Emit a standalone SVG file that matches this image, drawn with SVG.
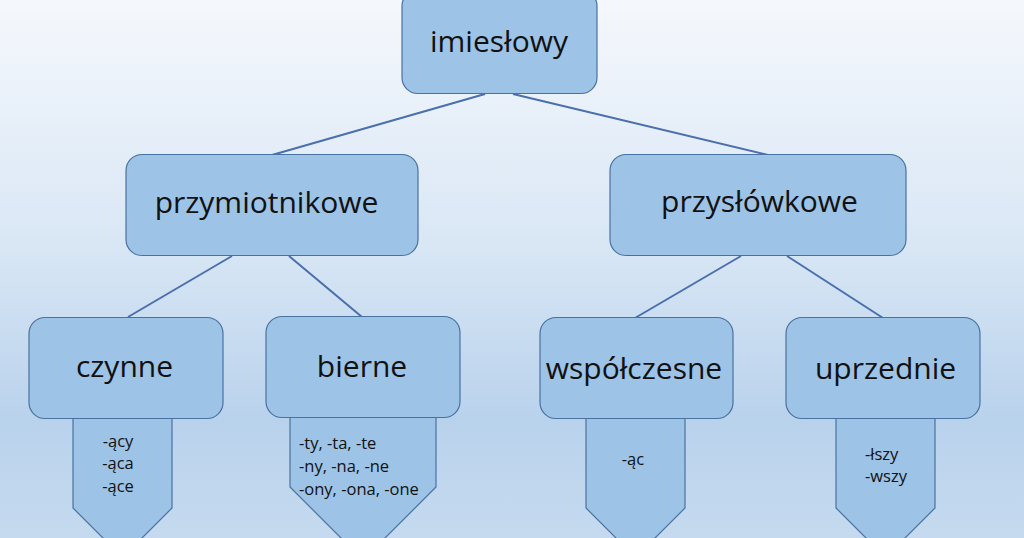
<svg xmlns="http://www.w3.org/2000/svg" width="1024" height="538" viewBox="0 0 1024 538">
<defs>
<linearGradient id="bg" x1="0" y1="0" x2="0" y2="1">
<stop offset="0" stop-color="#f5f8fc"/>
<stop offset="0.45" stop-color="#d9e7f5"/>
<stop offset="0.78" stop-color="#b9d2ec"/>
<stop offset="1" stop-color="#c5daef"/>
</linearGradient>
<style>
.box{fill:#9dc3e6;stroke:#4a72a0;stroke-width:1.2}
.lbl{font-family:"Open Sans","Noto Sans",sans-serif;font-size:30px;fill:#111;text-anchor:middle}
.suf{font-family:"Open Sans","Noto Sans",sans-serif;font-size:16.5px;fill:#111}
.con line{stroke:#4a6fae;stroke-width:2}
</style>
</defs>
<rect width="1024" height="538" fill="url(#bg)"/>
<g class="con" id="connectors">
<line x1="485" y1="94" x2="272" y2="155"/>
<line x1="513" y1="94" x2="768" y2="155"/>
<line x1="232" y1="256" x2="128" y2="317"/>
<line x1="289" y1="256" x2="362" y2="317"/>
<line x1="741" y1="256" x2="635" y2="318"/>
<line x1="787" y1="256" x2="883" y2="318"/>
</g>
<g id="suffix-czynne">
<polygon class="box" points="73,410 172,410 172,508 122.5,557.5 73,508"/>
<text class="suf" x="118" y="447" text-anchor="middle">-ący</text>
<text class="suf" x="118" y="469" text-anchor="middle">-ąca</text>
<text class="suf" x="118" y="492" text-anchor="middle">-ące</text>
</g>
<g id="suffix-bierne">
<polygon class="box" points="290,410 436,410 436,487 363,560 290,487"/>
<text class="suf" x="299" y="449">-ty, -ta, -te</text>
<text class="suf" x="299" y="472">-ny, -na, -ne</text>
<text class="suf" x="299" y="495">-ony, -ona, -one</text>
</g>
<g id="suffix-wspolczesne">
<polygon class="box" points="586,410 685,410 685,508 635.5,557.5 586,508"/>
<text class="suf" x="633" y="465" text-anchor="middle">-ąc</text>
</g>
<g id="suffix-uprzednie">
<polygon class="box" points="836,410 935,410 935,508 885.5,557.5 836,508"/>
<text class="suf" x="865" y="460">-łszy</text>
<text class="suf" x="865" y="482">-wszy</text>
</g>
<g id="imieslowy">
<rect class="box" x="402" y="-10" width="195" height="103.5" rx="16"/>
<text class="lbl" x="499" y="52">imiesłowy</text>
</g>
<g id="przymiotnikowe">
<rect class="box" x="126" y="154.5" width="292" height="101" rx="16"/>
<text class="lbl" x="266.5" y="213">przymiotnikowe</text>
</g>
<g id="przyslowkowe">
<rect class="box" x="610" y="154.5" width="296" height="101" rx="16"/>
<text class="lbl" x="759.5" y="212">przysłówkowe</text>
</g>
<g id="czynne">
<rect class="box" x="29" y="317.5" width="194" height="101" rx="16"/>
<text class="lbl" x="124.5" y="377">czynne</text>
</g>
<g id="bierne">
<rect class="box" x="266" y="316.5" width="194" height="101" rx="16"/>
<text class="lbl" x="362" y="377">bierne</text>
</g>
<g id="wspolczesne">
<rect class="box" x="540" y="317.5" width="193" height="101" rx="16"/>
<text class="lbl" x="634" y="379">współczesne</text>
</g>
<g id="uprzednie">
<rect class="box" x="786" y="317.5" width="194" height="101" rx="16"/>
<text class="lbl" x="885.5" y="379">uprzednie</text>
</g>
</svg>
